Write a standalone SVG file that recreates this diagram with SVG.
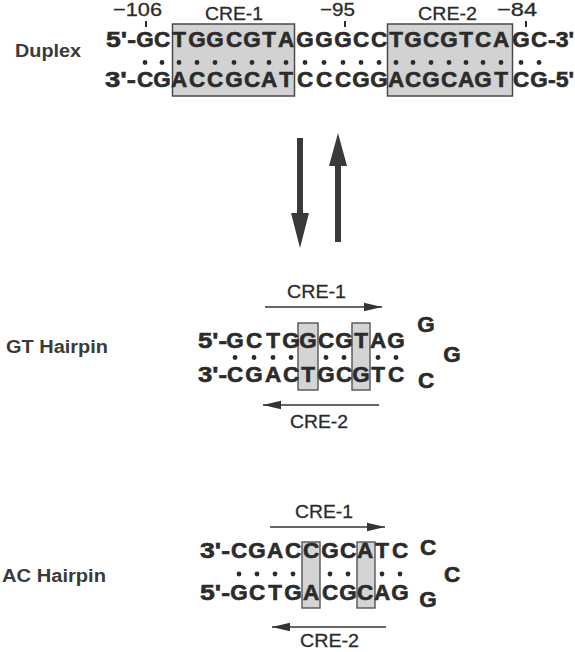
<svg xmlns="http://www.w3.org/2000/svg" width="575" height="652" viewBox="0 0 575 652">
<defs>
<style>
.seq{font-family:"Liberation Sans",Arial,sans-serif;font-weight:bold;font-size:22.5px;fill:#2b2b2b;stroke:#2b2b2b;stroke-width:0.6;text-anchor:middle}
.end{font-family:"Liberation Sans",Arial,sans-serif;font-weight:bold;font-size:22.5px;fill:#2b2b2b;stroke:#2b2b2b;stroke-width:0.6}
.lab{font-family:"Liberation Sans",Arial,sans-serif;font-size:19px;fill:#2b2b2b;stroke:#2b2b2b;stroke-width:0.3}
.name{font-family:"Liberation Sans",Arial,sans-serif;font-weight:bold;font-size:18px;fill:#3a3a3a}
.box{fill:#d2d2d2;stroke:#4a4a4a;stroke-width:1.5}
.hbox{fill:#d4d4d4;stroke:#555;stroke-width:1.4}
.dot{fill:#2b2b2b}
.tick{stroke:#2b2b2b;stroke-width:2}
.thin{stroke:#333;stroke-width:1.6;fill:none}
.big{fill:#3a3a3a}
</style>
<marker id="ah" viewBox="0 0 18 10" refX="18" refY="5" markerWidth="18" markerHeight="10" markerUnits="userSpaceOnUse" orient="auto">
<path d="M0,0.8 L18,5 L0,9.2 Z" fill="#333"/>
</marker>
</defs>

<g id="duplex">
<text class="name" x="15" y="57" textLength="66" lengthAdjust="spacingAndGlyphs">Duplex</text>
<rect class="box" x="172.5" y="24" width="122" height="72"/>
<rect class="box" x="387.5" y="24" width="125" height="72"/>
<text class="lab" x="113" y="16" textLength="49" lengthAdjust="spacingAndGlyphs">−106</text>
<text class="lab" x="205" y="20" textLength="58" lengthAdjust="spacingAndGlyphs">CRE-1</text>
<text class="lab" x="320" y="16" textLength="35" lengthAdjust="spacingAndGlyphs">−95</text>
<text class="lab" x="418" y="20" textLength="59" lengthAdjust="spacingAndGlyphs">CRE-2</text>
<text class="lab" x="497" y="16" textLength="40" lengthAdjust="spacingAndGlyphs">−84</text>
<line class="tick" x1="146" y1="21" x2="146" y2="27"/>
<line class="tick" x1="345" y1="21" x2="345" y2="27"/>
<line class="tick" x1="526" y1="21" x2="526" y2="27"/>
<text class="end" x="106" y="47" textLength="30" lengthAdjust="spacingAndGlyphs">5'-</text>
<text class="seq" x="145 162 179 197 215 234 252 269 286 305 324 343 361 379 396 413 431 449 466 483 501 521 539" y="47">GCTGGCGTAGGGCCTGCGTCAGC</text>
<text class="end" x="548" y="47" textLength="26" lengthAdjust="spacingAndGlyphs">-3'</text>
<g class="dot">
<circle cx="145" cy="62.5" r="2.4"/><circle cx="162" cy="62.5" r="2.4"/><circle cx="179" cy="62.5" r="2.4"/><circle cx="197" cy="62.5" r="2.4"/><circle cx="215" cy="62.5" r="2.4"/><circle cx="234" cy="62.5" r="2.4"/><circle cx="252" cy="62.5" r="2.4"/><circle cx="269" cy="62.5" r="2.4"/><circle cx="286" cy="62.5" r="2.4"/><circle cx="305" cy="62.5" r="2.4"/><circle cx="324" cy="62.5" r="2.4"/><circle cx="343" cy="62.5" r="2.4"/><circle cx="361" cy="62.5" r="2.4"/><circle cx="379" cy="62.5" r="2.4"/><circle cx="396" cy="62.5" r="2.4"/><circle cx="413" cy="62.5" r="2.4"/><circle cx="431" cy="62.5" r="2.4"/><circle cx="449" cy="62.5" r="2.4"/><circle cx="466" cy="62.5" r="2.4"/><circle cx="483" cy="62.5" r="2.4"/><circle cx="501" cy="62.5" r="2.4"/><circle cx="521" cy="62.5" r="2.4"/><circle cx="539" cy="62.5" r="2.4"/>
</g>
<text class="end" x="105" y="87" textLength="31" lengthAdjust="spacingAndGlyphs">3'-</text>
<text class="seq" x="145 162 179 197 215 234 252 269 286 305 324 343 361 379 396 413 431 449 466 483 501 521 539" y="87">CGACCGCATCCCGGACGCAGTCG</text>
<text class="end" x="548" y="87" textLength="26" lengthAdjust="spacingAndGlyphs">-5'</text>
</g>

<g id="equilibrium">
<polygon class="big" points="297,138 303,138 303,213 309,213 300,248 291,213 297,213"/>
<polygon class="big" points="335,242 341,242 341,166 347,166 338,133 329,166 335,166"/>
</g>

<g id="gt-hairpin">
<text class="name" x="6" y="353" textLength="102" lengthAdjust="spacingAndGlyphs">GT Hairpin</text>
<rect class="hbox" x="298" y="323" width="20" height="67"/>
<rect class="hbox" x="352" y="323" width="18" height="67"/>
<text class="end" x="198" y="348" textLength="29" lengthAdjust="spacingAndGlyphs">5'-</text>
<text class="seq" x="235 254 273 291 308 326 344 361 378 396" y="348">GCTGGCGTAG</text>
<g class="dot">
<circle cx="235" cy="357.5" r="2.4"/><circle cx="254" cy="357.5" r="2.4"/><circle cx="273" cy="357.5" r="2.4"/><circle cx="291" cy="357.5" r="2.4"/><circle cx="326" cy="357.5" r="2.4"/><circle cx="344" cy="357.5" r="2.4"/><circle cx="378" cy="357.5" r="2.4"/><circle cx="396" cy="357.5" r="2.4"/>
</g>
<text class="end" x="198" y="382" textLength="29" lengthAdjust="spacingAndGlyphs">3'-</text>
<text class="seq" x="235 254 273 291 308 326 344 361 378 396" y="382">CGACTGCGTC</text>
<text class="seq" x="426" y="332">G</text>
<text class="seq" x="452" y="362">G</text>
<text class="seq" x="426" y="388">C</text>
<text class="lab" x="287" y="298" textLength="59" lengthAdjust="spacingAndGlyphs">CRE-1</text>
<text class="lab" x="290" y="428" textLength="58" lengthAdjust="spacingAndGlyphs">CRE-2</text>
</g>

<g id="ac-hairpin">
<text class="name" x="2" y="582" textLength="104" lengthAdjust="spacingAndGlyphs">AC Hairpin</text>
<rect class="hbox" x="302" y="542" width="18" height="66"/>
<rect class="hbox" x="357" y="542" width="18" height="66"/>
<text class="end" x="200" y="558" textLength="30" lengthAdjust="spacingAndGlyphs">3'-</text>
<text class="seq" x="239 257 275 293 311 330 348 365 382 400" y="558">CGACCGCATC</text>
<g class="dot">
<circle cx="239" cy="574" r="2.4"/><circle cx="257" cy="574" r="2.4"/><circle cx="275" cy="574" r="2.4"/><circle cx="293" cy="574" r="2.4"/><circle cx="330" cy="574" r="2.4"/><circle cx="348" cy="574" r="2.4"/><circle cx="382" cy="574" r="2.4"/><circle cx="400" cy="574" r="2.4"/>
</g>
<text class="end" x="200" y="600" textLength="30" lengthAdjust="spacingAndGlyphs">5'-</text>
<text class="seq" x="239 257 275 293 311 330 348 365 382 400" y="600">GCTGACGCAG</text>
<text class="seq" x="428" y="555">C</text>
<text class="seq" x="452" y="582">C</text>
<text class="seq" x="428" y="607">G</text>
<text class="lab" x="295" y="518" textLength="58" lengthAdjust="spacingAndGlyphs">CRE-1</text>
<text class="lab" x="300" y="647" textLength="59" lengthAdjust="spacingAndGlyphs">CRE-2</text>
</g>

<g id="connectors">
<line class="thin" x1="265" y1="307" x2="382" y2="307" marker-end="url(#ah)"/>
<line class="thin" x1="379" y1="405" x2="263" y2="405" marker-end="url(#ah)"/>
<line class="thin" x1="270" y1="527" x2="385" y2="527" marker-end="url(#ah)"/>
<line class="thin" x1="386" y1="627" x2="272" y2="627" marker-end="url(#ah)"/>
</g>
</svg>
